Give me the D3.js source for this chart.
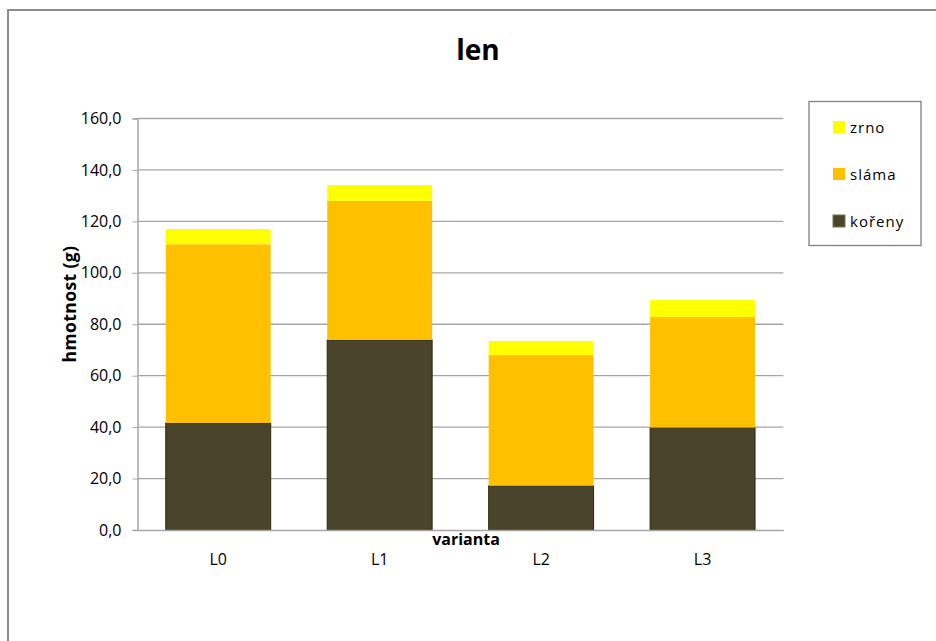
<!DOCTYPE html>
<html>
<head>
<meta charset="utf-8">
<script src="https://cdn.jsdelivr.net/npm/d3@7"></script>
<style>
  html, body { margin: 0; padding: 0; background: #fff; }
  svg { display: block; font-family: "Open Sans", Lato, sans-serif; }
</style>
</head>
<body>
<svg id="chart" width="936" height="641"></svg>
<script>
// Hmotnost lnu podle variant (g)
const categories = ["L0", "L1", "L2", "L3"];
const seriesNames = ["kořeny", "sláma", "zrno"];
const koreny = [41.6, 73.9, 17.2, 39.8];
const slama  = [69.5, 54.1, 50.8, 43.0];
const zrno   = [5.9, 6.1, 5.5, 6.6];
const yTicks = [0, 20, 40, 60, 80, 100, 120, 140, 160];
const colors = { "kořeny": "#4a452a", "sláma": "#ffc000", "zrno": "#ffff00" };
const strokes = { "kořeny": "#2e2a0c", "sláma": "none", "zrno": "none" };

const rows = categories.map((c, i) => ({
  cat: c, "kořeny": koreny[i], "sláma": slama[i], "zrno": zrno[i]
}));

const svg = d3.select("#chart");
const plot = { left: 137.5, right: 783.3, top: 118.5, bottom: 530 };
const font = "'Open Sans', Lato, sans-serif";

// outer chart frame
svg.append("rect")
  .attr("x", 8).attr("y", 10).attr("width", 940).attr("height", 650)
  .attr("fill", "#fff").attr("stroke", "#8c8c8c").attr("stroke-width", 2);

const x = d3.scaleBand().domain(categories)
  .range([plot.left, plot.right]).paddingInner(0.35).paddingOuter(0.175);
const y = d3.scaleLinear().domain([0, 160]).range([plot.bottom, plot.top]);

// gridlines
svg.append("g").selectAll("line").data(yTicks.filter(t => t > 0)).join("line")
  .attr("x1", plot.left).attr("x2", plot.right)
  .attr("y1", d => y(d)).attr("y2", d => y(d))
  .attr("stroke", "#a6a6a6").attr("stroke-width", 1.3);

// stacked bars
const stack = d3.stack().keys(seriesNames)(rows);
svg.append("g").selectAll("g").data(stack).join("g")
  .attr("fill", d => colors[d.key])
  .attr("stroke", d => strokes[d.key])
  .selectAll("rect").data(d => d).join("rect")
  .attr("x", d => x(d.data.cat))
  .attr("width", x.bandwidth())
  .attr("y", d => y(d[1]))
  .attr("height", d => y(d[0]) - y(d[1]));

// y axis
const yAxis = d3.axisLeft(y).tickValues(yTicks).tickSize(5).tickPadding(11)
  .tickFormat(d => d3.format(".1f")(d).replace(".", ","));
const ya = svg.append("g").attr("transform", `translate(${plot.left},0)`).call(yAxis);
ya.select(".domain").attr("stroke", "#a6a6a6").attr("stroke-width", 1.5);
ya.selectAll(".tick line").attr("stroke", "#a6a6a6");
ya.selectAll("text").attr("font-size", 16).attr("fill", "#000")
  .attr("font-family", font);

// x axis
const xAxis = d3.axisBottom(x).tickSize(0).tickPadding(24);
const xa = svg.append("g").attr("transform", `translate(0,${plot.bottom})`).call(xAxis);
xa.select(".domain").attr("stroke", "#a6a6a6").attr("stroke-width", 1.5);
xa.selectAll("text").attr("font-size", 16).attr("fill", "#000")
  .attr("font-family", font);

// title
svg.append("text").attr("x", 478).attr("y", 60).attr("text-anchor", "middle")
  .attr("font-size", 28).attr("font-weight", "bold").text("len");

// axis titles
svg.append("text").attr("x", 466).attr("y", 545).attr("text-anchor", "middle")
  .attr("font-size", 16).attr("font-weight", "bold").text("varianta");
svg.append("text")
  .attr("transform", "translate(76,304) rotate(-90)")
  .attr("text-anchor", "middle")
  .attr("font-size", 17.5).attr("font-weight", "bold").attr("letter-spacing", 0.4)
  .text("hmotnost (g)");

// legend
const legend = svg.append("g");
legend.append("rect").attr("x", 809).attr("y", 101.5).attr("width", 112).attr("height", 144)
  .attr("fill", "#fff").attr("stroke", "#808080").attr("stroke-width", 1.3);
const legendOrder = ["zrno", "sláma", "kořeny"];
const li = legend.selectAll("g.item").data(legendOrder).join("g")
  .attr("class", "item")
  .attr("transform", (d, i) => `translate(833,${121 + i * 47})`);
li.append("rect").attr("width", 12).attr("height", 12)
  .attr("fill", d => colors[d])
  .attr("stroke", d => d === "kořeny" ? "#7a7440" : "none");
li.append("text").attr("x", 17).attr("y", 12)
  .attr("font-size", 15).attr("letter-spacing", 1).text(d => d);
</script>
</body>
</html>
